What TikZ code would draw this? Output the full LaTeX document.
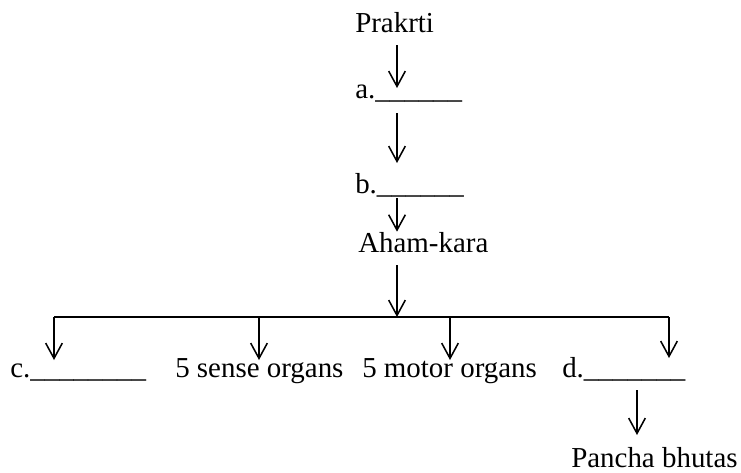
\documentclass[tikz,border=0pt]{standalone}
\usepackage{fontspec}
\setmainfont{Liberation Serif}
\usetikzlibrary{arrows.meta}

\tikzset{
  lbl/.style={inner sep=0pt,anchor=base west,font=\fontsize{21.7}{26}\selectfont},
  arr/.style={-{Straight Barb[length=11.5pt,width=12.5pt]},line width=1.15pt},
  bar/.style={line width=1.15pt}
}

\begin{document}
\begin{tikzpicture}[x=0.75pt,y=-0.75pt]
\useasboundingbox (0,0) rectangle (741,472);

\node[lbl] (prakrti) at (355,32) {Prakrti};
\node[lbl] (a) at (355,98) {a.\_\_\_\_\_\_};
\node[lbl] (b) at (355,193) {b.\_\_\_\_\_\_};
\node[lbl] (aham) at (358,252) {Aham-kara};

\node[lbl] (c) at (10,377) {c.\_\_\_\_\_\_\_\_};
\node[lbl] (sense) at (175,377) {5 sense organs};
\node[lbl] (motor) at (362,377) {5 motor organs};
\node[lbl] (d) at (562,377) {d.\_\_\_\_\_\_\_};
\node[lbl] (pancha) at (571,467) {Pancha bhutas};

% vertical chain
\coordinate (mid) at (397,0);
\draw[arr] (mid |- 0,45) -- (mid |- 0,88);
\draw[arr] (mid |- 0,113) -- (mid |- 0,163);
\draw[arr] (mid |- 0,198) -- (aham.north -| mid);

% branches
\coordinate (left) at (54,317);
\coordinate (right) at (669,317);
\draw[arr] (mid |- 0,265) -- (mid |- left);
\draw[bar] (left) -- (right);
\draw[arr] (left) -- (54,360);
\draw[arr] (259,317) -- (259,360);
\draw[arr] (450,317) -- (450,360);
\draw[arr] (right) -- (669,358);

\draw[arr] (637,390) -- (637,435);

\end{tikzpicture}
\end{document}
